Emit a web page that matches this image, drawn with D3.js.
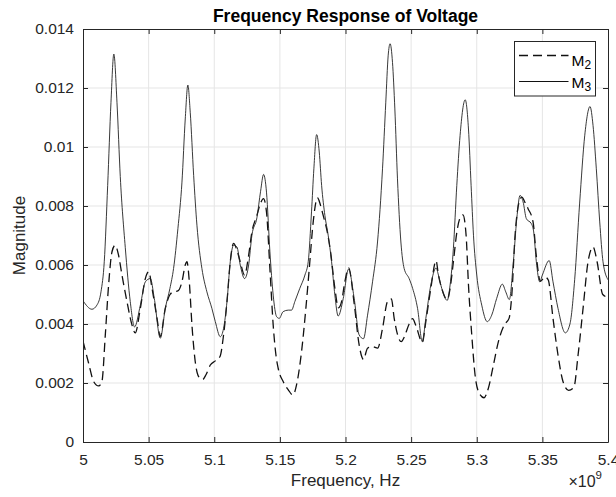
<!DOCTYPE html>
<html>
<head>
<meta charset="utf-8">
<script src="https://cdn.jsdelivr.net/npm/d3@7"></script>
<style>
  body { margin: 0; background: #fff; }
  svg { display: block; font-family: "Liberation Sans", Arial, sans-serif; }
</style>
</head>
<body>
<svg id="chart" width="616" height="497"></svg>
<script>
// frequency in GHz (axis shows x10^9 Hz)
const m3Freq = [5.000, 5.0068, 5.0106, 5.0137, 5.0162, 5.0188, 5.0213, 5.0235, 5.0259, 5.0284, 5.0322, 5.036, 5.0393, 5.0437, 5.0475, 5.0513, 5.0543, 5.0589, 5.0627, 5.0662, 5.069, 5.0723, 5.0754, 5.0779, 5.0799, 5.0817, 5.0843, 5.0868, 5.0906, 5.0944, 5.0982, 5.1008, 5.1046, 5.1071, 5.1097, 5.1122, 5.1147, 5.1173, 5.1198, 5.1231, 5.1262, 5.1287, 5.1325, 5.1353, 5.1376, 5.1398, 5.1424, 5.1449, 5.1475, 5.1495, 5.1525, 5.1564, 5.1589, 5.1614, 5.1652, 5.1691, 5.1716, 5.1741, 5.1759, 5.178, 5.18, 5.1818, 5.1843, 5.1868, 5.1894, 5.1919, 5.1944, 5.1983, 5.2023, 5.2066, 5.2104, 5.2137, 5.2168, 5.2206, 5.2244, 5.2282, 5.2307, 5.2325, 5.234, 5.2358, 5.2376, 5.2396, 5.2422, 5.2447, 5.2485, 5.2512, 5.2549, 5.2585, 5.2612, 5.265, 5.269, 5.2708, 5.2733, 5.2775, 5.2797, 5.2822, 5.2848, 5.2873, 5.2912, 5.2937, 5.2957, 5.2975, 5.3, 5.3038, 5.308, 5.3114, 5.3152, 5.3195, 5.3221, 5.3248, 5.3279, 5.3305, 5.333, 5.3353, 5.3378, 5.3416, 5.3434, 5.3454, 5.348, 5.35, 5.3552, 5.3581, 5.3619, 5.3675, 5.371, 5.3746, 5.3784, 5.3823, 5.3863, 5.3886, 5.3911, 5.3937, 5.3962, 5.4];
const m3Mag = [0.00479, 0.0045, 0.00464, 0.00509, 0.00611, 0.0087, 0.0115, 0.01315, 0.0115, 0.009, 0.0066, 0.00476, 0.0039, 0.00464, 0.00543, 0.00554, 0.00487, 0.00352, 0.00453, 0.0052, 0.00588, 0.00723, 0.00881, 0.01095, 0.0121, 0.01118, 0.00904, 0.00735, 0.00588, 0.00509, 0.00453, 0.00408, 0.00357, 0.00385, 0.00476, 0.00611, 0.00667, 0.00661, 0.006, 0.00554, 0.006, 0.00701, 0.0076, 0.0085, 0.00907, 0.00847, 0.00645, 0.00498, 0.00425, 0.00419, 0.00442, 0.00447, 0.00447, 0.00476, 0.00521, 0.00566, 0.00611, 0.0078, 0.00926, 0.01042, 0.00983, 0.0087, 0.00768, 0.00701, 0.00611, 0.00498, 0.00427, 0.00487, 0.00586, 0.00487, 0.00363, 0.0035, 0.0043, 0.00543, 0.00678, 0.00926, 0.01152, 0.01309, 0.0135, 0.01287, 0.01129, 0.00892, 0.00678, 0.00588, 0.00554, 0.0052, 0.00453, 0.0034, 0.00419, 0.00532, 0.0059, 0.00566, 0.00521, 0.0048, 0.00532, 0.00656, 0.0087, 0.01039, 0.0116, 0.01061, 0.0087, 0.00701, 0.00566, 0.00464, 0.00408, 0.0043, 0.00487, 0.00535, 0.00509, 0.00483, 0.00611, 0.00757, 0.00836, 0.00814, 0.00757, 0.0074, 0.00712, 0.00611, 0.00543, 0.00566, 0.00615, 0.00543, 0.00453, 0.0037, 0.004, 0.0055, 0.0081, 0.0104, 0.01137, 0.01073, 0.00926, 0.00746, 0.00611, 0.0055];

const m2Freq = [5.000, 5.0043, 5.0081, 5.012, 5.0144, 5.017, 5.0195, 5.0221, 5.0245, 5.0271, 5.0297, 5.0335, 5.0373, 5.0398, 5.0437, 5.0475, 5.0501, 5.0526, 5.0564, 5.0589, 5.0627, 5.0663, 5.069, 5.0723, 5.0754, 5.0779, 5.0792, 5.081, 5.083, 5.0855, 5.0881, 5.0912, 5.0937, 5.097, 5.1008, 5.1044, 5.1071, 5.1097, 5.1122, 5.1147, 5.1173, 5.1198, 5.1231, 5.1262, 5.1287, 5.1325, 5.1353, 5.1375, 5.1398, 5.1424, 5.1449, 5.147, 5.1487, 5.1525, 5.1564, 5.16, 5.1627, 5.1665, 5.1698, 5.1724, 5.1754, 5.1786, 5.181, 5.183, 5.1861, 5.1886, 5.1919, 5.1946, 5.197, 5.1995, 5.2024, 5.2066, 5.2104, 5.2137, 5.2168, 5.2206, 5.2245, 5.2282, 5.232, 5.235, 5.2371, 5.2425, 5.2447, 5.2485, 5.2511, 5.2536, 5.2585, 5.2612, 5.265, 5.269, 5.2708, 5.2733, 5.2775, 5.2797, 5.2822, 5.2848, 5.2873, 5.2895, 5.2919, 5.2937, 5.2962, 5.2987, 5.3013, 5.3055, 5.3089, 5.3127, 5.3165, 5.321, 5.3246, 5.3267, 5.3292, 5.3323, 5.3343, 5.337, 5.3391, 5.3429, 5.3454, 5.3485, 5.352, 5.3545, 5.3581, 5.3619, 5.3657, 5.37, 5.374, 5.3772, 5.381, 5.3848, 5.3886, 5.3917, 5.396, 5.4];
const m2Mag = [0.00342, 0.00267, 0.00205, 0.0019, 0.00205, 0.00363, 0.00532, 0.00645, 0.00667, 0.00633, 0.00566, 0.00476, 0.00397, 0.0037, 0.00453, 0.00554, 0.00577, 0.00521, 0.00419, 0.00358, 0.00453, 0.005, 0.00509, 0.00512, 0.00543, 0.006, 0.00611, 0.00543, 0.00397, 0.00273, 0.00222, 0.00212, 0.00228, 0.00261, 0.00275, 0.0029, 0.00363, 0.00476, 0.00611, 0.00673, 0.0065, 0.00611, 0.00566, 0.00633, 0.00712, 0.00768, 0.0081, 0.00825, 0.0078, 0.00588, 0.00397, 0.00295, 0.0025, 0.00205, 0.00177, 0.00159, 0.00194, 0.00306, 0.00453, 0.00588, 0.00746, 0.00828, 0.00802, 0.00768, 0.00712, 0.00645, 0.00521, 0.00455, 0.00476, 0.00543, 0.0059, 0.0047, 0.00329, 0.0028, 0.00318, 0.00323, 0.00318, 0.00385, 0.00476, 0.00485, 0.00419, 0.0034, 0.00355, 0.004, 0.00418, 0.00395, 0.00338, 0.00408, 0.00521, 0.00615, 0.00566, 0.00521, 0.00483, 0.00521, 0.00611, 0.0071, 0.0076, 0.0077, 0.007, 0.00532, 0.00363, 0.00228, 0.00171, 0.0015, 0.00183, 0.00261, 0.0034, 0.00397, 0.00419, 0.00498, 0.00701, 0.00814, 0.0083, 0.0081, 0.00791, 0.00746, 0.0063, 0.00545, 0.0056, 0.00549, 0.00419, 0.00295, 0.00205, 0.00175, 0.00185, 0.00295, 0.00453, 0.00611, 0.00661, 0.00611, 0.005, 0.0049];

const xTicks = [5, 5.05, 5.1, 5.15, 5.2, 5.25, 5.3, 5.35, 5.4];
const xTickLabels = ['5', '5.05', '5.1', '5.15', '5.2', '5.25', '5.3', '5.35', '5.4'];
const yTicks = [0, 0.002, 0.004, 0.006, 0.008, 0.01, 0.012, 0.014];
const yTickLabels = ['0', '0.002', '0.004', '0.006', '0.008', '0.01', '0.012', '0.014'];

const axisColor = '#262626';
const plotLeft = 83, plotRight = 608, plotTop = 29, plotBottom = 442;

var svg = d3.select('#chart');
var x = d3.scaleLinear().domain([5, 5.4]).range([plotLeft, plotRight]);
var y = d3.scaleLinear().domain([0, 0.014]).range([plotBottom, plotTop]);

// grid
var grid = svg.append('g').attr('stroke', '#e5e5e5').attr('stroke-width', 1);
xTicks.slice(1, -1).forEach(t => {
  grid.append('line').attr('x1', x(t)).attr('x2', x(t)).attr('y1', plotTop).attr('y2', plotBottom);
});
yTicks.slice(1, -1).forEach(t => {
  grid.append('line').attr('x1', plotLeft).attr('x2', plotRight).attr('y1', y(t)).attr('y2', y(t));
});

svg.append('clipPath').attr('id', 'plotClip')
  .append('rect').attr('x', plotLeft).attr('y', plotTop).attr('width', plotRight - plotLeft).attr('height', plotBottom - plotTop);

var line = d3.line().curve(d3.curveMonotoneX);
var m2Pts = m2Freq.map((f, i) => [x(f), y(m2Mag[i])]);
var m3Pts = m3Freq.map((f, i) => [x(f), y(m3Mag[i])]);

var lines = svg.append('g').attr('clip-path', 'url(#plotClip)').attr('fill', 'none');
lines.append('path').attr('d', line(m2Pts))
  .attr('stroke', '#111').attr('stroke-width', 1.3).attr('stroke-dasharray', '9,5');
lines.append('path').attr('d', line(m3Pts))
  .attr('stroke', '#222').attr('stroke-width', 0.9);

// axes (box with ticks on all sides, ticks pointing in)
var xAxisB = d3.axisBottom(x).tickValues(xTicks).tickFormat((d, i) => xTickLabels[i]).tickSizeInner(-5).tickSizeOuter(0).tickPadding(12);
var xAxisT = d3.axisTop(x).tickValues(xTicks).tickFormat('').tickSizeInner(-5).tickSizeOuter(0);
var yAxisL = d3.axisLeft(y).tickValues(yTicks).tickFormat((d, i) => yTickLabels[i]).tickSizeInner(-5).tickSizeOuter(0).tickPadding(9);
var yAxisR = d3.axisRight(y).tickValues(yTicks).tickFormat('').tickSizeInner(-5).tickSizeOuter(0);

function styleAxis(g) {
  g.select('.domain').attr('stroke', axisColor);
  g.selectAll('.tick line').attr('stroke', axisColor);
  g.selectAll('.tick text').attr('fill', axisColor).style('font-size', '15.5px').style('font-family', '"Liberation Sans", Arial, sans-serif');
}
svg.append('g').attr('transform', `translate(0,${plotBottom})`).call(xAxisB).call(styleAxis);
svg.append('g').attr('transform', `translate(0,${plotTop})`).call(xAxisT).call(styleAxis);
svg.append('g').attr('transform', `translate(${plotLeft},0)`).call(yAxisL).call(styleAxis);
svg.append('g').attr('transform', `translate(${plotRight},0)`).call(yAxisR).call(styleAxis);

// labels
svg.append('text').attr('x', (plotLeft + plotRight) / 2).attr('y', 21.5)
  .attr('text-anchor', 'middle').attr('font-weight', 'bold').attr('font-size', 17.5).attr('fill', '#000')
  .text('Frequency Response of Voltage');
svg.append('text').attr('x', (plotLeft + plotRight) / 2).attr('y', 486)
  .attr('text-anchor', 'middle').attr('font-size', 17).attr('fill', axisColor)
  .text('Frequency, Hz');
svg.append('text').attr('transform', `translate(24.5,${(plotTop + plotBottom) / 2}) rotate(-90)`)
  .attr('text-anchor', 'middle').attr('font-size', 17).attr('fill', axisColor)
  .text('Magnitude');

var expo = svg.append('text').attr('x', 602).attr('y', 487).attr('text-anchor', 'end')
  .attr('font-size', 16).attr('fill', axisColor);
expo.append('tspan').text('×10');
expo.append('tspan').attr('dy', -8.5).attr('font-size', 11.5).text('9');

// legend
var legend = svg.append('g');
legend.append('rect').attr('x', 514.5).attr('y', 41.5).attr('width', 81).attr('height', 54.5)
  .attr('fill', '#fff').attr('stroke', axisColor).attr('stroke-width', 1);
var entries = [
  { name: 'M', sub: '2', dash: '9,5', width: 1.3, y: 55.5, base: 65.5 },
  { name: 'M', sub: '3', dash: null, width: 1.1, y: 81.5, base: 88 }
];
entries.forEach(e => {
  legend.append('line').attr('x1', 519).attr('x2', 568.5).attr('y1', e.y).attr('y2', e.y)
    .attr('stroke', '#111').attr('stroke-width', e.width).attr('stroke-dasharray', e.dash);
  var t = legend.append('text').attr('x', 571.5).attr('y', e.base).attr('font-size', 15.5).attr('fill', '#000');
  t.append('tspan').text(e.name);
  t.append('tspan').attr('dy', 3).attr('font-size', 12).text(e.sub);
});
</script>
</body>
</html>
